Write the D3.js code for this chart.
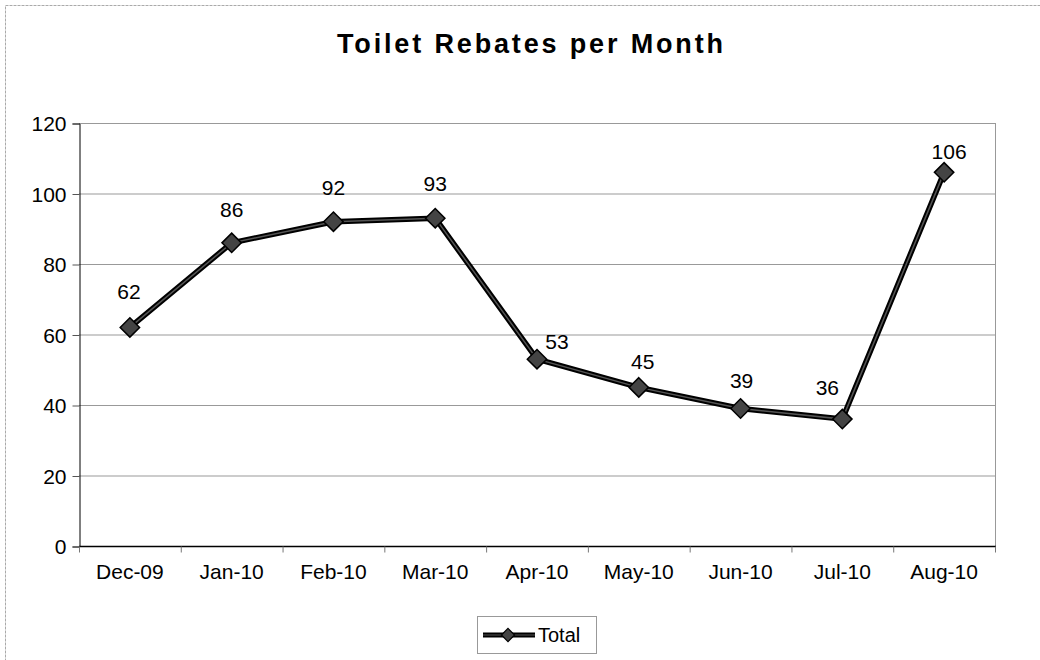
<!DOCTYPE html>
<html>
<head>
<meta charset="utf-8">
<script src="https://d3js.org/d3.v7.min.js"></script>
<style>
  body { margin: 0; background: #fff; }
  svg text { font-family: "Liberation Sans", Arial, sans-serif; fill: #000; }
</style>
</head>
<body>
<div class="root"></div>
<script>

var months = ['Dec-09', 'Jan-10', 'Feb-10', 'Mar-10', 'Apr-10', 'May-10', 'Jun-10', 'Jul-10', 'Aug-10'];
var totals = [62, 86, 92, 93, 53, 45, 39, 36, 106];
var yTicks = [0, 20, 40, 60, 80, 100, 120];

// label nudges (dx, dy from the point), the original has some hand placed
var labelDx = [-1, 0, 0, 0, 20, 4, 1, -15, 5];
var labelDy = [-28, -26, -27, -27, -10, -18, -21, -24, -13];

var canvasWidth = 1040,
    canvasHeight = 660;

var plot = {left: 79, top: 123, right: 995, bottom: 546};

var svg = d3.select('.root')
            .append('svg')
            .attr('width', canvasWidth)
            .attr('height', canvasHeight);

// outer chart border (only left and top visible in the scan)
svg.append('rect')
   .attr('x', 5.5).attr('y', 5.5)
   .attr('width', canvasWidth + 20).attr('height', canvasHeight + 20)
   .style('fill', 'none')
   .style('stroke', '#aaa')
   .style('stroke-width', 1)
   .style('stroke-dasharray', '3,1');

svg.append('text')
   .attr('x', 530)
   .attr('y', 53)
   .attr('text-anchor', 'middle')
   .attr('textLength', 386)
   .attr('lengthAdjust', 'spacing')
   .style('font-size', '27px')
   .style('font-weight', 'bold')
   .text('Toilet Rebates per Month');

var x = d3.scaleBand()
          .domain(months)
          .range([plot.left, plot.right]);

var y = d3.scaleLinear()
          .domain([0, 120])
          .range([plot.bottom, plot.top]);

// gridlines
svg.append('g')
   .selectAll('line')
   .data(yTicks.filter(d => d > 0))
   .enter().append('line')
   .attr('x1', plot.left).attr('x2', plot.right)
   .attr('y1', d => y(d) + 0.5).attr('y2', d => y(d) + 0.5)
   .style('stroke', '#999')
   .style('stroke-width', 1);

// right border of plot
svg.append('line')
   .attr('x1', plot.right + 0.5).attr('x2', plot.right + 0.5)
   .attr('y1', plot.top).attr('y2', plot.bottom)
   .style('stroke', '#999');

// y axis
var yAxis = svg.append('g')
               .attr('transform', 'translate(' + (plot.left + 0.5) + ',0.5)')
               .call(d3.axisLeft(y).tickValues(yTicks).tickSize(7).tickPadding(6));
yAxis.select('.domain').style('stroke', '#000');
yAxis.selectAll('.tick line').style('stroke', '#555');
yAxis.selectAll('.tick text').style('font-size', '21px').attr('dy', '0.35em');

// x axis, ticks sit between categories
var xAxis = svg.append('g')
               .attr('transform', 'translate(0,' + (plot.bottom + 0.5) + ')');
xAxis.append('line')
     .attr('x1', plot.left).attr('x2', plot.right + 1)
     .style('stroke', '#000')
     .style('stroke-width', 1.5);
xAxis.selectAll('.xtick')
     .data(months.concat(['end']))
     .enter().append('line')
     .attr('x1', (d, i) => plot.left + i * x.bandwidth() + 0.5)
     .attr('x2', (d, i) => plot.left + i * x.bandwidth() + 0.5)
     .attr('y1', 0).attr('y2', 6)
     .style('stroke', '#777');
xAxis.selectAll('.xlabel')
     .data(months)
     .enter().append('text')
     .attr('x', d => x(d) + x.bandwidth() / 2)
     .attr('y', 32)
     .attr('text-anchor', 'middle')
     .style('font-size', '21px')
     .text(d => d);

// series
var data = months.map((m, i) => ({month: m, value: totals[i], i: i}));

var line = d3.line()
             .x(d => x(d.month) + x.bandwidth() / 2)
             .y(d => y(d.value));

svg.append('path')
   .datum(data)
   .attr('d', line)
   .style('fill', 'none')
   .style('stroke', '#000')
   .style('stroke-width', 5.5)
   .style('stroke-linejoin', 'round');

svg.append('path')
   .datum(data)
   .attr('d', line)
   .style('fill', 'none')
   .style('stroke', '#555')
   .style('stroke-width', 1.5);

var diamond = d3.symbol().type(d3.symbolDiamond2).size(240);

svg.append('g')
   .selectAll('path')
   .data(data)
   .enter().append('path')
   .attr('d', diamond)
   .attr('transform', d => 'translate(' + (x(d.month) + x.bandwidth() / 2) + ',' + y(d.value) + ')')
   .style('fill', '#444')
   .style('stroke', '#000')
   .style('stroke-width', 1.5);

svg.append('g')
   .selectAll('text')
   .data(data)
   .enter().append('text')
   .attr('x', d => x(d.month) + x.bandwidth() / 2 + labelDx[d.i])
   .attr('y', d => y(d.value) + labelDy[d.i])
   .attr('text-anchor', 'middle')
   .style('font-size', '21px')
   .text(d => d.value);

// legend
var legend = svg.append('g').attr('transform', 'translate(477,616)');
legend.append('rect')
      .attr('x', 0.5).attr('y', 0.5)
      .attr('width', 119).attr('height', 37)
      .style('fill', '#fff')
      .style('stroke', '#999');
legend.append('line')
      .attr('x1', 6).attr('x2', 58).attr('y1', 19).attr('y2', 19)
      .style('stroke', '#000').style('stroke-width', 5);
legend.append('line')
      .attr('x1', 6).attr('x2', 58).attr('y1', 19).attr('y2', 19)
      .style('stroke', '#555').style('stroke-width', 1.2);
legend.append('path')
      .attr('d', d3.symbol().type(d3.symbolDiamond2).size(110))
      .attr('transform', 'translate(31,19)')
      .style('fill', '#444').style('stroke', '#000').style('stroke-width', 1.2);
legend.append('text')
      .attr('x', 61).attr('y', 26)
      .style('font-size', '20px')
      .text('Total');

</script>
</body>
</html>
